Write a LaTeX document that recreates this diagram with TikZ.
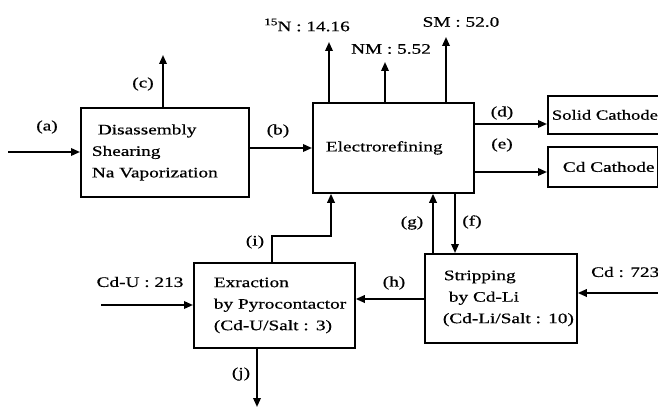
\documentclass[tikz,border=0pt]{standalone}
\usepackage{fontspec}
\setmainfont{Liberation Serif}[FakeStretch=1.33,FakeBold=0.6]
\usetikzlibrary{arrows.meta}
\newcommand{\ind}[1]{\hspace*{#1}}
\begin{document}
\begin{tikzpicture}[x=1pt,y=-1pt,
  box/.style={draw,line width=1.8pt,anchor=north west,align=left,inner ysep=0pt,inner xsep=3pt,
    font=\fontsize{14.5}{21.5}\selectfont},
  flow/.style={line width=1.8pt,-{Triangle[length=9pt,width=7.5pt]}},
  lbl/.style={font=\fontsize{14.5}{16}\selectfont,inner sep=1pt}]
\clip (0,0) rectangle (658,409);
\useasboundingbox (0,0) rectangle (658,409);
% boxes
\node[box,minimum width=168pt,minimum height=89pt,text width=162pt] (dis) at (80,107)
  {\ind{14pt}Disassembly\\\ind{8pt}Shearing\\\ind{8pt}Na Vaporization};
\node[box,minimum width=161pt,minimum height=90pt,text width=155pt] (elec) at (312,102)
  {\ind{10pt}Electrorefining\\[6pt]};
\node[box,minimum width=140pt,minimum height=38pt,text width=134pt,font=\fontsize{14}{16}\selectfont] (solid) at (547,95)
  {\ind{1pt}Solid Cathode};
\node[box,minimum width=110pt,minimum height=40pt,text width=104pt] (cdc) at (547,146)
  {\ind{12pt}Cd Cathode};
\node[box,minimum width=161pt,minimum height=85pt,text width=155pt] (ext) at (193,262)
  {\ind{17pt}Exraction\\\ind{17pt}by Pyrocontactor\\\ind{17pt}(Cd-U/Salt : 3)\\[-6pt]};
\node[box,minimum width=152pt,minimum height=89pt,text width=146pt] (strip) at (424,253)
  {\ind{16pt}Stripping\\\ind{21pt}by Cd-Li\\\ind{15pt}(Cd-Li/Salt : 10)};
% free ends and bends
\coordinate (ain) at (8,152);
\coordinate (cup) at (163,55);
\coordinate (brow) at (0,148);
\coordinate (n15) at (329,42);
\coordinate (nm) at (385,62);
\coordinate (sm) at (446,37);
\coordinate (drow) at (0,124);
\coordinate (erow) at (0,172);
\coordinate (ibend) at (272,236);
\coordinate (icol) at (331,0);
\coordinate (gcol) at (433,0);
\coordinate (fcol) at (455,0);
\coordinate (hrow) at (0,299);
\coordinate (cduin) at (101,305);
\coordinate (cdin) at (665,293);
\coordinate (jout) at (257,407);
% connectors
\draw[flow] (ain) -- (ain -| dis.west);
\draw[flow] (cup |- dis.north) -- (cup);
\draw[flow] (brow -| dis.east) -- (brow -| elec.west);
\draw[flow] (n15 |- elec.north) -- (n15);
\draw[flow] (nm |- elec.north) -- (nm);
\draw[flow] (sm |- elec.north) -- (sm);
\draw[flow] (drow -| elec.east) -- (drow -| solid.west);
\draw[flow] (erow -| elec.east) -- (erow -| cdc.west);
\draw[flow] (ibend |- ext.north) -- (ibend) -- (ibend -| icol) -- (icol |- elec.south);
\draw[flow] (gcol |- strip.north) -- (gcol |- elec.south);
\draw[flow] (fcol |- elec.south) -- (fcol |- strip.north);
\draw[flow] (hrow -| strip.west) -- (hrow -| ext.east);
\draw[flow] (cduin) -- (cduin -| ext.west);
\draw[flow] (cdin) -- (cdin -| strip.east);
\draw[flow] (jout |- ext.south) -- (jout);
% labels
\node[lbl] (la) at (47,127) {(a)};
\node[lbl] (lc) at (143,84) {(c)};
\node[lbl] (lb) at (278,131) {(b)};
\node[lbl] (l15) at (307,25) {\raisebox{6pt}{\fontsize{10}{10}\selectfont 15}N : 14.16};
\node[lbl] (lnm) at (391,49) {NM : 5.52};
\node[lbl] (lsm) at (461,22) {SM : 52.0};
\node[lbl] (ld) at (502,113) {(d)};
\node[lbl] (le) at (502,145) {(e)};
\node[lbl] (li) at (255,242) {(i)};
\node[lbl] (lg) at (412,223) {(g)};
\node[lbl] (lf) at (472,222) {(f)};
\node[lbl] (lh) at (394,283) {(h)};
\node[lbl] (lj) at (241,374) {(j)};
\node[lbl] (lcdu) at (140,282) {Cd-U : 213};
\node[lbl,anchor=west] (lcd) at (590,272) {Cd : 723};
\end{tikzpicture}
\end{document}
